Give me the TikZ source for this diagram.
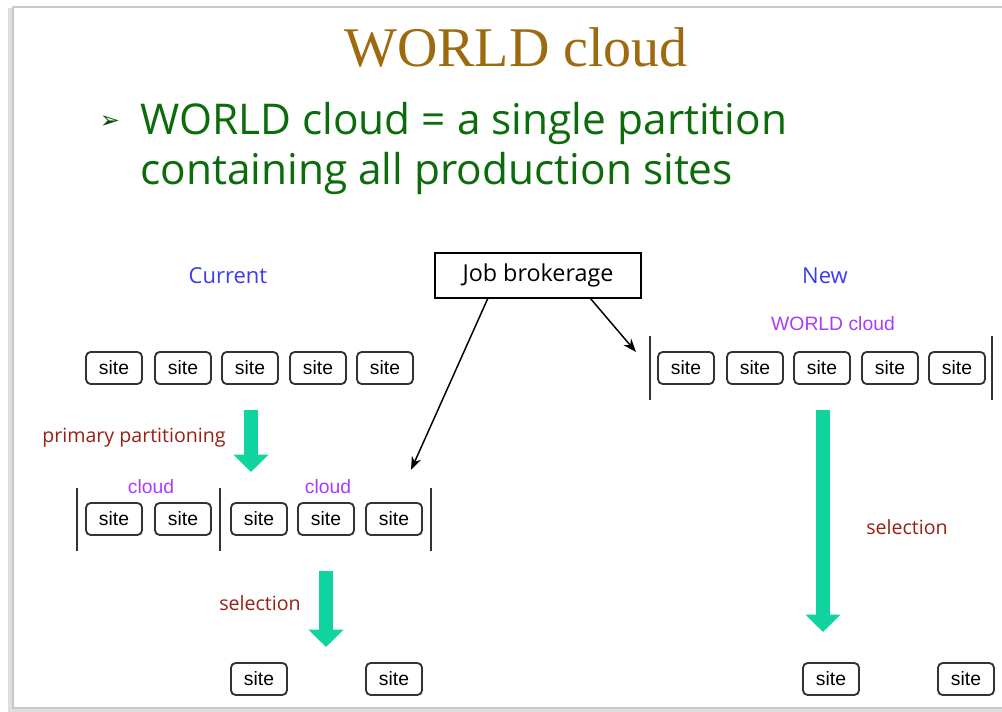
\documentclass[tikz,border=0pt]{standalone}
\usepackage{fontspec}
\setmainfont{Liberation Sans}
\newfontfamily\titlefont{Liberation Serif}
\newfontfamily\comic{Open Sans}
\newfontfamily\arialf{Liberation Sans}
\newfontfamily\dejavu{DejaVu Sans}
\usetikzlibrary{arrows.meta}
\definecolor{titlebrown}{RGB}{158,106,16}
\definecolor{bulletgreen}{RGB}{12,108,12}
\definecolor{labelblue}{RGB}{60,60,235}
\definecolor{cloudpurple}{RGB}{170,60,250}
\definecolor{labelred}{RGB}{150,32,20}
\definecolor{fatgreen}{RGB}{16,212,160}
\definecolor{framegrey}{RGB}{200,200,200}
\begin{document}
\begin{tikzpicture}[x=0.75pt,y=-0.75pt,
  sitebox/.style={draw=black!80, line width=1.4pt, rounded corners=3.5pt,
    minimum width=42pt, minimum height=24pt, inner sep=0pt,
    font=\arialf\fontsize{14.5}{17}\selectfont},
  bar/.style={draw=black!80, line width=1.5pt},
  fatarrow/.style={draw=fatgreen, line width=10.5pt,
    -{Triangle[width=25.5pt,length=13pt]}},
  connector/.style={draw=black, line width=1.1pt, -{Stealth[length=10pt,width=7.5pt]}},
  comiclabel/.style={font=\comic\fontsize{16.5}{20}\selectfont, text=labelblue, anchor=base},
  redlabel/.style={font=\comic\fontsize{14.7}{18}\selectfont, text=labelred, anchor=base},
  cloudlabel/.style={font=\arialf\fontsize{14.5}{17}\selectfont, text=cloudpurple, anchor=base},
  bullettext/.style={font=\comic\fontsize{31.8}{37}\selectfont, text=bulletgreen, anchor=base west, inner sep=0pt}
]
\useasboundingbox (0,0) rectangle (1002,712);
\fill[white] (0,0) rectangle (1002,712);
% slide frame
\draw[framegrey!60, line width=3pt] (10,8) -- (10,711) -- (1002,711);
\draw[framegrey, line width=1.2pt] (1002,7) -- (13,7) -- (13,708) -- (1002,708);

% title
\node[font=\titlefont\fontsize{42}{48}\selectfont, text=titlebrown, anchor=base] (title) at (516,67) {WORLD cloud};
\node[font=\dejavu\fontsize{18}{20}\selectfont, text=bulletgreen!70!black, anchor=base] (bullet) at (110,129) {➢};
\node[bullettext] (line1) at (140,135) {WORLD cloud = a single partition};
\node[bullettext] (line2) at (140,185) {containing all production sites};

% headings
\node[comiclabel] (current) at (228,284) {Current};
\node[comiclabel] (new) at (825,284) {New};
\node[draw=black, line width=1.2pt, minimum width=154.5pt, minimum height=33.75pt, inner sep=0pt,
  font=\comic\fontsize{17.5}{20}\selectfont] (job) at (538,275.5) {Job brokerage};

% current: top row
\node[sitebox] (a1) at (114,368) {site};
\node[sitebox] (a2) at (183,368) {site};
\node[sitebox] (a3) at (250,368) {site};
\node[sitebox] (a4) at (318,368) {site};
\node[sitebox] (a5) at (385,368) {site};

% primary partitioning arrow
\coordinate (pa1) at (251,410);
\coordinate (pa2) at (251,472);
\draw[fatarrow] (pa1) -- (pa2);
\node[redlabel] (primary) at (134,442) {primary partitioning};

% clouds row
\node[cloudlabel] (cl1) at (151,493) {cloud};
\node[cloudlabel] (cl2) at (328,493) {cloud};
\coordinate (b0t) at (77,488); \coordinate (b0b) at (77,551);
\coordinate (b1t) at (220,488); \coordinate (b1b) at (220,551);
\coordinate (b2t) at (431,488); \coordinate (b2b) at (431,551);
\draw[bar] (b0t) -- (b0b);
\draw[bar] (b1t) -- (b1b);
\draw[bar] (b2t) -- (b2b);
\node[sitebox] (c1) at (114,519) {site};
\node[sitebox] (c2) at (183,519) {site};
\node[sitebox] (c3) at (259,519) {site};
\node[sitebox] (c4) at (326,519) {site};
\node[sitebox] (c5) at (394,519) {site};

% selection (current)
\coordinate (sa1) at (326,571);
\coordinate (sa2) at (326,647);
\draw[fatarrow] (sa1) -- (sa2);
\node[redlabel] (sel1) at (260,610) {selection};
\node[sitebox] (d1) at (259,679) {site};
\node[sitebox] (d2) at (394,679) {site};

% new: world cloud
\node[cloudlabel] (wc) at (833,331) {WORLD cloud};
\coordinate (w0t) at (650,336); \coordinate (w0b) at (650,400);
\coordinate (w1t) at (992,336); \coordinate (w1b) at (992,400);
\draw[bar] (w0t) -- (w0b);
\draw[bar] (w1t) -- (w1b);
\node[sitebox] (e1) at (686,368) {site};
\node[sitebox] (e2) at (755,368) {site};
\node[sitebox] (e3) at (822,368) {site};
\node[sitebox] (e4) at (890,368) {site};
\node[sitebox] (e5) at (957,368) {site};

% selection (new)
\coordinate (sb1) at (823,410);
\coordinate (sb2) at (823,632);
\draw[fatarrow] (sb1) -- (sb2);
\node[redlabel] (sel2) at (907,534) {selection};
\node[sitebox] (f1) at (831,679) {site};
\node[sitebox] (f2) at (966,679) {site};

% brokerage connectors
\coordinate (js1) at (488,298);
\coordinate (jt1) at (411,470);
\coordinate (js2) at (590,298);
\coordinate (jt2) at (636,352);
\draw[connector] (js1) -- (jt1);
\draw[connector] (js2) -- (jt2);
\end{tikzpicture}
\end{document}
